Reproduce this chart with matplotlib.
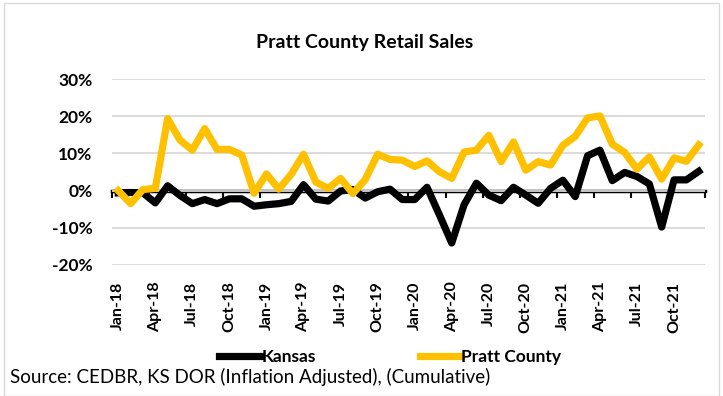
import pandas as pd
import matplotlib.pyplot as plt
from matplotlib.patches import Rectangle

plt.rcParams['font.family'] = ['Lato', 'DejaVu Sans']

# months Jan-18 .. Dec-21
meses = pd.date_range('2018-01-01', periods=48, freq='MS').strftime('%b-%y').tolist()

# cumulative change, %
kansas = [-0.6, -0.5, -0.6, -3.3, 1.3, -1.3, -3.5, -2.4, -3.5, -2.2, -2.2, -4.2,
          -3.8, -3.5, -2.9, 1.6, -2.3, -2.8, -0.1, 0.3, -2.0, -0.3, 0.4, -2.4,
          -2.4, 0.9, -6.5, -14.1, -3.8, 2.0, -1.2, -2.7, 0.9, -1.2, -3.4, 0.6,
          2.8, -1.6, 9.4, 10.9, 2.7, 4.9, 3.8, 1.8, -9.8, 2.9, 2.9, 5.2]
pratt = [0.0, -3.5, 0.3, 0.6, 19.4, 13.6, 10.9, 16.7, 11.1, 11.1, 9.6, -0.7,
         4.5, 0.4, 4.4, 9.8, 2.3, 0.6, 3.3, -0.8, 3.0, 9.8, 8.4, 8.2,
         6.5, 8.0, 5.1, 3.3, 10.4, 10.9, 14.9, 7.8, 13.1, 5.5, 7.8, 6.9,
         12.2, 14.6, 19.6, 20.1, 12.5, 10.3, 5.8, 9.1, 3.1, 8.8, 7.9, 12.3]

fig = plt.figure(figsize=(7.23, 3.96), dpi=100)
ax = fig.add_axes([0.155, 0.331, 0.82, 0.469])

x = list(range(len(meses)))
ax.plot(x, kansas, color='black', lw=5.2, solid_joinstyle='round', label='Kansas', zorder=3)
ax.plot(x, pratt, color='#FFC000', lw=5.2, solid_joinstyle='round', label='Pratt County', zorder=4)

ax.set_xlim(-0.5, 47.5)
ax.set_ylim(-20, 30)
ax.set_yticks([-20, -10, 0, 10, 20, 30])
ax.set_yticklabels([f'{v}%' for v in [-20, -10, 0, 10, 20, 30]], fontweight='bold', fontsize=12.5)
ax.yaxis.grid(True, color='#D9D9D9', lw=1.3)
ax.set_axisbelow(True)
ax.tick_params(axis='y', length=0, pad=14)

# category labels at bottom of plot area
ax.set_xticks(x[::3])
ax.set_xticklabels(meses[::3], rotation=90, fontweight='bold', fontsize=11.5)
ax.tick_params(axis='x', length=0, pad=12)

for s in ax.spines.values():
    s.set_visible(False)

# horizontal axis line at 0 with tick marks between categories
eixo = ax.secondary_xaxis(0.4)
eixo.set_xticks([i - 0.5 for i in range(0, 49, 3)])
eixo.set_xticklabels([])
eixo.tick_params(length=5, width=1.5, color='black', direction='out')
eixo.spines['bottom'].set_linewidth(2.5)
eixo.spines['bottom'].set_zorder(2)

fig.suptitle('Pratt County Retail Sales', x=0.505, y=0.915, fontsize=14, fontweight='bold')

fig.legend(loc='center', bbox_to_anchor=(0.54, 0.098), ncol=2, frameon=False,
           handlelength=2.4, handletextpad=0.0, columnspacing=6,
           prop={'weight': 'bold', 'size': 12.5})

fig.text(0.014, 0.033, 'Source: CEDBR, KS DOR (Inflation Adjusted), (Cumulative)', fontsize=13.5)

fig.patches.append(Rectangle((4 / 723, 0), 715 / 723, 393 / 396, transform=fig.transFigure,
                             fill=False, edgecolor='#D9D9D9', lw=1))

plt.savefig('out.png', dpi=100)
